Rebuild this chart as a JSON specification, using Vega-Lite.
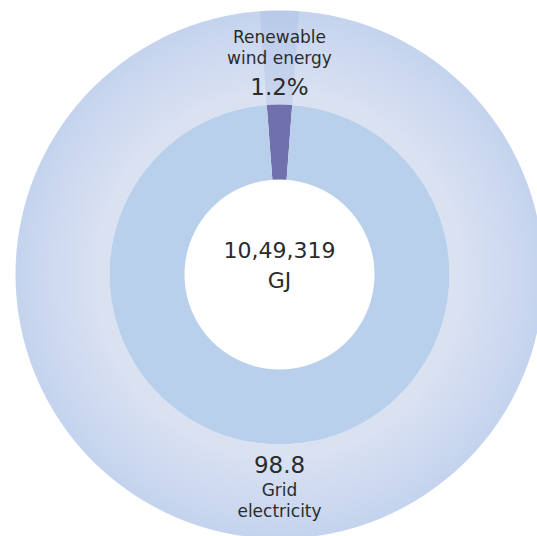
{
  "$schema": "https://vega.github.io/schema/vega-lite/v6.json",
  "width": 515,
  "height": 523,
  "padding": {"left": 22, "top": 13, "right": 0, "bottom": 0},
  "autosize": {"type": "none"},
  "background": "white",
  "config": {"view": {"stroke": null}, "text": {"font": "DejaVu Sans", "color": "#2b2b2b"}},
  "data": {"values": [
    {"source": "Renewable wind energy", "value": 1.2, "pct": "1.2%", "label": "Renewable\nwind energy"},
    {"source": "Grid electricity", "value": 98.8, "pct": "98.8", "label": "Grid\nelectricity"}
  ]},
  "layer": [
    {
      "data": {"values": [{"ring": "outer"}]},
      "mark": {"type": "arc", "theta": 0, "theta2": 6.2832, "innerRadius": 170, "outerRadius": 264,
        "color": {"gradient": "radial", "x1": 0.5, "y1": 0.5, "x2": 0.5, "y2": 0.5, "r1": 0, "r2": 0.5,
          "stops": [
            {"offset": 0, "color": "#dde4f3"},
            {"offset": 0.68, "color": "#dae2f2"},
            {"offset": 1, "color": "#c4d3ee"}
          ]}},
      "encoding": {}
    },
    {
      "mark": {"type": "arc", "innerRadius": 170, "outerRadius": 264, "opacity": 0.3},
      "encoding": {
        "theta": {"field": "value", "type": "quantitative", "stack": true,
          "scale": {"type": "pow", "exponent": 0.845, "domain": [0, 100], "range": [-0.075, 6.2082]}},
        "order": {"field": "value", "type": "quantitative"},
        "color": {"condition": {"test": "datum.source === 'Renewable wind energy'", "value": "#9fb5e2"}, "value": "transparent"}
      }
    },
    {
      "mark": {"type": "arc", "innerRadius": 95, "outerRadius": 170},
      "encoding": {
        "theta": {"field": "value", "type": "quantitative", "stack": true,
          "scale": {"type": "pow", "exponent": 0.845, "domain": [0, 100], "range": [-0.075, 6.2082]}},
        "order": {"field": "value", "type": "quantitative"},
        "color": {"condition": {"test": "datum.source === 'Renewable wind energy'", "value": "#7070ae"}, "value": "#b8d0eb"}
      }
    },
    {
      "mark": {"type": "text", "radius": 189, "dy": 9.5, "fontSize": 23, "baseline": "alphabetic", "align": "center"},
      "encoding": {
        "theta": {"field": "value", "type": "quantitative", "stack": true,
          "scale": {"type": "linear", "domain": [0, 100], "range": [-0.0377, 6.2455]}},
        "order": {"field": "value", "type": "quantitative"},
        "text": {"field": "pct"}
      }
    },
    {
      "mark": {"type": "text", "radius": 226.5, "dy": -5, "fontSize": 17, "lineBreak": "\n", "lineHeight": 21, "baseline": "alphabetic", "align": "center"},
      "encoding": {
        "theta": {"field": "value", "type": "quantitative", "stack": true,
          "scale": {"type": "linear", "domain": [0, 100], "range": [-0.0377, 6.2455]}},
        "order": {"field": "value", "type": "quantitative"},
        "text": {"field": "label"}
      }
    },
    {
      "data": {"values": [{"total": "10,49,319\nGJ"}]},
      "mark": {"type": "text", "fontSize": 22, "lineBreak": "\n", "lineHeight": 30, "baseline": "alphabetic", "align": "center", "dy": -16.5},
      "encoding": {"text": {"field": "total"}}
    }
  ],
  "resolve": {"scale": {"theta": "independent"}}
}
